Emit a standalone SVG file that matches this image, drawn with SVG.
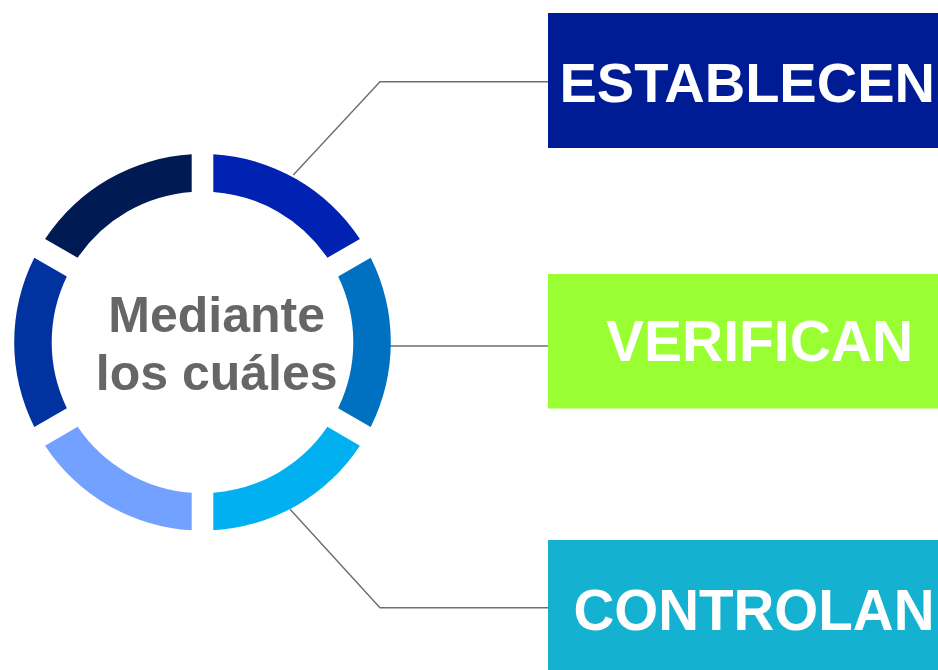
<svg xmlns="http://www.w3.org/2000/svg" width="938" height="670" viewBox="0 0 938 670">
<style>
.conn{fill:none;stroke:#6e6e6e;stroke-width:1.4}
.lbl{font-family:"Liberation Sans",Arial,sans-serif;font-weight:bold;font-size:57px;fill:#ffffff}
.ctr{font-family:"Liberation Sans",Arial,sans-serif;font-weight:bold;font-size:50px;fill:#666666;text-anchor:middle}
</style>
<defs>
<path id="seg" d="M168.21,-84.64 A188.3,188.3 0 0 1 168.21,84.64 L135.66,65.85 A150.8,150.8 0 0 0 135.66,-65.85 Z"/>
</defs>
<rect width="938" height="670" fill="#ffffff"/>
<g id="connectors">
<polyline class="conn" points="293.3,175 380,81.7 548,81.7"/>
<polyline class="conn" points="390,346 548,346"/>
<polyline class="conn" points="290,509.3 380,607.7 548,607.7"/>
</g>
<g id="ring" transform="translate(202.5,342.3)">
<use href="#seg" transform="rotate(-60)" fill="#0021B1"/>
<use href="#seg" fill="#0070C0"/>
<use href="#seg" transform="rotate(60)" fill="#00B0F0"/>
<use href="#seg" transform="rotate(120)" fill="#73A1FF"/>
<use href="#seg" transform="rotate(180)" fill="#0032A0"/>
<use href="#seg" transform="rotate(240)" fill="#001B54"/>
</g>
<g id="center">
<text class="ctr" x="216.7" y="331.7">Mediante</text>
<text class="ctr" x="216.7" y="390">los cuáles</text>
</g>
<g id="establecen">
<rect x="548" y="13" width="390" height="135" fill="#001C94"/>
<text class="lbl" x="559.5" y="101.7" style="font-size:56px">ESTABLECEN</text>
</g>
<g id="verifican">
<rect x="548" y="274" width="390" height="134.5" fill="#99FF33"/>
<text class="lbl" x="606" y="360.7">VERIFICAN</text>
</g>
<g id="controlan">
<rect x="548" y="540" width="390" height="130" fill="#14B1D1"/>
<text class="lbl" x="573.5" y="630" style="font-size:56.5px">CONTROLAN</text>
</g>
</svg>
